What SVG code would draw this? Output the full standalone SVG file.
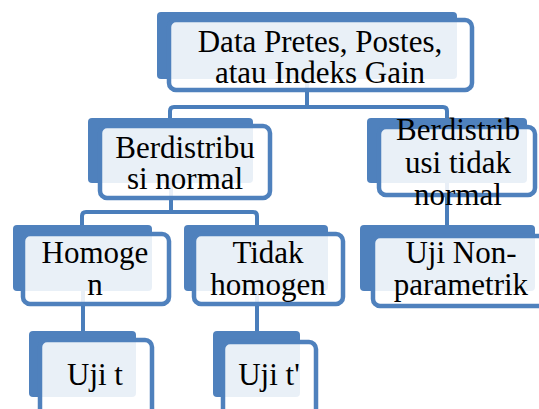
<svg xmlns="http://www.w3.org/2000/svg" width="539" height="409" viewBox="0 0 539 409">
<style>
.back{fill:#4F81BD}
.front{fill:#FFFFFF;fill-opacity:0.88;stroke:#4F81BD;stroke-width:4.5}
.conn{fill:none;stroke:#4A7EBB;stroke-width:4;stroke-linejoin:round}
text{font-family:"Liberation Serif","Times New Roman",serif;font-size:31px;fill:#000;text-anchor:middle}
</style>
<rect width="539" height="409" fill="#FFFFFF"/>
<g id="connectors">
<path class="conn" d="M307,60 V107"/>
<path class="conn" d="M170,119 V111 Q170,107 174,107 H443 Q447,107 447,111 V119"/>
<path class="conn" d="M171,160 V212"/>
<path class="conn" d="M82,226 V216 Q82,212 86,212 H253 Q257,212 257,216 V226"/>
<path class="conn" d="M447,160 V226"/>
<path class="conn" d="M83,270 V332"/>
<path class="conn" d="M257,270 V332"/>
</g>
<g id="n-top">
<rect class="back" x="157" y="12" width="300" height="67" rx="4"/>
<rect class="front" x="169" y="20" width="303" height="70" rx="7"/>
<text x="320" y="52">Data Pretes, Postes,</text>
<text x="320" y="83">atau Indeks Gain</text>
</g>
<g id="n-normal">
<rect class="back" x="88" y="118" width="165" height="65" rx="4"/>
<rect class="front" x="100" y="126" width="170" height="72" rx="7"/>
<text x="185" y="158">Berdistribu</text>
<text x="185" y="189">si normal</text>
</g>
<g id="n-tidaknormal">
<rect class="back" x="367" y="118" width="160" height="65" rx="4"/>
<rect class="front" x="379" y="127" width="156" height="68" rx="7"/>
<text x="458" y="140">Berdistrib</text>
<text x="458" y="173">usi tidak</text>
<text x="458" y="205">normal</text>
</g>
<g id="n-homogen">
<rect class="back" x="13" y="225" width="139" height="66" rx="4"/>
<rect class="front" x="23" y="234" width="146" height="70" rx="7"/>
<text x="95" y="263">Homoge</text>
<text x="95" y="295">n</text>
</g>
<g id="n-tidakhomogen">
<rect class="back" x="184" y="225" width="144" height="66" rx="4"/>
<rect class="front" x="194" y="234" width="149" height="70" rx="7"/>
<text x="268" y="263">Tidak</text>
<text x="268" y="295">homogen</text>
</g>
<g id="n-nonparametrik">
<rect class="back" x="360" y="225" width="175" height="66" rx="4"/>
<rect class="front" x="373" y="236" width="178" height="70" rx="7"/>
<text x="461" y="263">Uji Non-</text>
<text x="461" y="295">parametrik</text>
</g>
<g id="n-ujit">
<rect class="back" x="29" y="331" width="107" height="66" rx="4"/>
<rect class="front" x="40" y="340" width="112" height="80" rx="7"/>
<text x="95" y="385">Uji t</text>
</g>
<g id="n-ujit2">
<rect class="back" x="213" y="331" width="87" height="66" rx="4"/>
<rect class="front" x="223" y="342" width="93" height="80" rx="7"/>
<text x="269" y="385">Uji t'</text>
</g>
</svg>
